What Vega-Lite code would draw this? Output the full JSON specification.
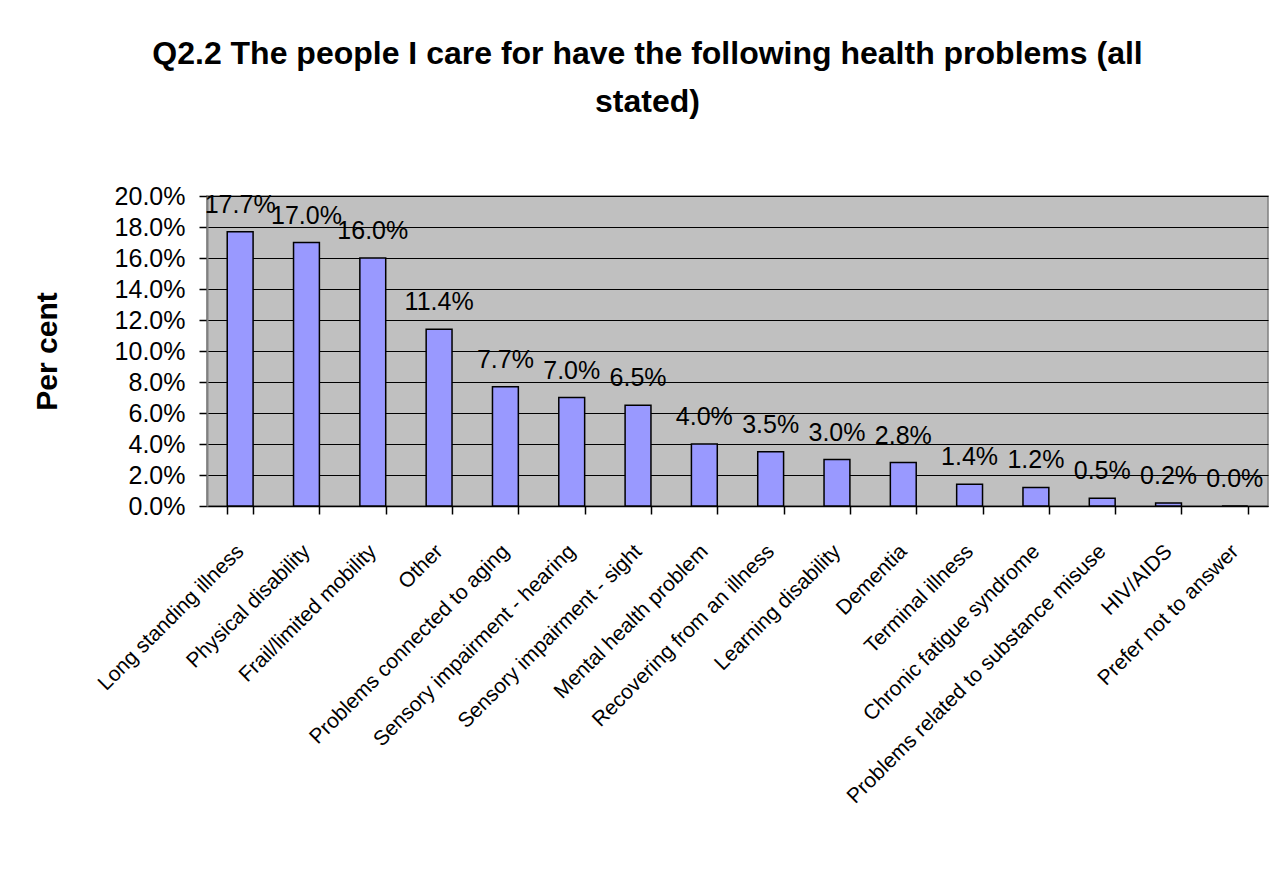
{
  "$schema": "https://vega.github.io/schema/vega-lite/v6.json",
  "autosize": "none",
  "width": 1061,
  "height": 310,
  "padding": {"left": 207, "top": 196, "right": 15, "bottom": 378},
  "background": "white",
  "title": {
    "text": ["Q2.2 The people I care for have the following health problems (all", "stated)"],
    "font": "Liberation Sans",
    "fontSize": 32,
    "fontWeight": "bold",
    "color": "black",
    "anchor": "middle",
    "frame": "group",
    "dx": -90,
    "lineHeight": 48,
    "offset": 65
  },
  "data": {
    "values": [
      {"problem": "Long standing illness", "pct": 0.177},
      {"problem": "Physical disability", "pct": 0.170},
      {"problem": "Frail/limited mobility", "pct": 0.160},
      {"problem": "Other", "pct": 0.114},
      {"problem": "Problems connected to aging", "pct": 0.077},
      {"problem": "Sensory impairment - hearing", "pct": 0.070},
      {"problem": "Sensory impairment - sight", "pct": 0.065},
      {"problem": "Mental health problem", "pct": 0.040},
      {"problem": "Recovering from an illness", "pct": 0.035},
      {"problem": "Learning disability", "pct": 0.030},
      {"problem": "Dementia", "pct": 0.028},
      {"problem": "Terminal illness", "pct": 0.014},
      {"problem": "Chronic fatigue syndrome", "pct": 0.012},
      {"problem": "Problems related to substance misuse", "pct": 0.005},
      {"problem": "HIV/AIDS", "pct": 0.002},
      {"problem": "Prefer not to answer", "pct": 0.000}
    ]
  },
  "encoding": {
    "x": {
      "field": "problem",
      "type": "nominal",
      "sort": null,
      "scale": {"paddingInner": 0.61, "paddingOuter": 0.305},
      "axis": {
        "title": null,
        "labelAngle": -45,
        "labelAlign": "right",
        "labelBaseline": "middle",
        "labelFont": "Liberation Sans",
        "labelFontSize": 21,
        "labelColor": "black",
        "labelPadding": 34,
        "labelLimit": 600,
        "labelOverlap": false,
        "tickBand": "extent",
        "tickSize": 8,
        "tickColor": "black",
        "tickWidth": 1.5,
        "domainColor": "black",
        "domainWidth": 1.5,
        "grid": false
      }
    },
    "y": {
      "field": "pct",
      "type": "quantitative",
      "scale": {"domain": [0, 0.2], "nice": false},
      "axis": {
        "title": "Per cent",
        "titleFont": "Liberation Sans",
        "titleFontSize": 30,
        "titleFontWeight": "bold",
        "titleColor": "black",
        "titlePadding": 52,
        "format": ".1%",
        "values": [0, 0.02, 0.04, 0.06, 0.08, 0.1, 0.12, 0.14, 0.16, 0.18, 0.2],
        "labelFont": "Liberation Sans",
        "labelFontSize": 25,
        "labelColor": "black",
        "labelPadding": 14,
        "tickSize": 8,
        "tickColor": "black",
        "tickWidth": 1.5,
        "domainColor": "#808080",
        "domainWidth": 2,
        "grid": true,
        "gridColor": "black",
        "gridWidth": 1.2
      }
    }
  },
  "layer": [
    {
      "mark": {"type": "bar", "color": "#9999FF", "stroke": "black", "strokeWidth": 1.5}
    },
    {
      "mark": {"type": "text", "font": "Liberation Sans", "fontSize": 25, "color": "black", "baseline": "alphabetic", "align": "center", "dy": -19},
      "encoding": {
        "text": {"field": "pct", "type": "quantitative", "format": ".1%"}
      }
    }
  ],
  "config": {
    "view": {"fill": "#C0C0C0", "stroke": "#808080", "strokeWidth": 1.5}
  }
}
